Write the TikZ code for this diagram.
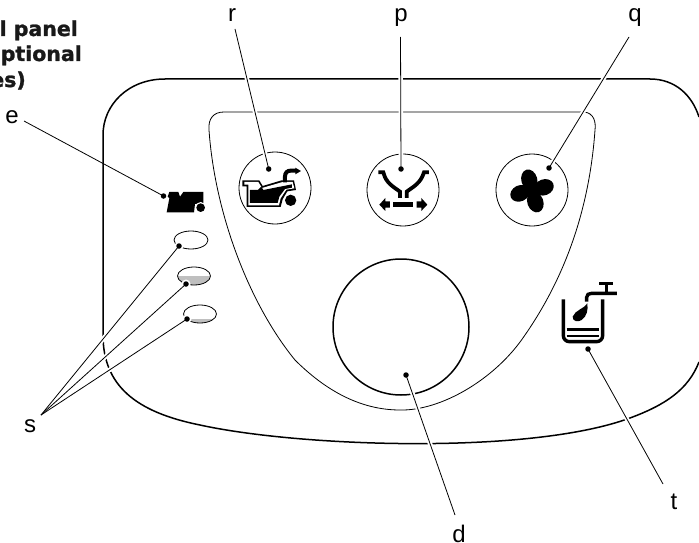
\documentclass[tikz,border=0pt]{standalone}
\usepackage{fontspec}
\setmainfont{Liberation Sans}
\newfontfamily\headfont[FakeBold=1.2]{DejaVu Sans Bold}
\tikzset{
  lbl/.style={font=\fontsize{24}{24}\selectfont,inner sep=0pt,text=black},
  head/.style={font=\headfont\fontsize{20.5}{21}\selectfont,inner sep=0pt,anchor=base east,text=black!90},
  leader/.style={line width=0.8pt},
  halo/.style={line width=4.5pt,white},
  dotm/.style={circle,fill=black,inner sep=0pt,minimum size=5.5pt},
  panel/.style={line width=1.5pt},
  inner/.style={line width=0.8pt},
  btn/.style={line width=0.8pt},
  lamp/.style={line width=0.8pt},
  icon/.style={shift={(#1)},x=0.3333pt,y=-0.3333pt}
}
\begin{document}
\begin{tikzpicture}[x=1pt,y=-1pt]
\useasboundingbox[fill=white] (0,0) rectangle (699,543);
% heading
\node[head] (h1) at (78,36) {l panel};
\node[head] (h2) at (82,61) {ptional};
\begin{scope}
  \clip (0,60) rectangle (60,100);
  \node[head] (h3) at (26,87) {es)};
\end{scope}
% panel
\draw[panel] (699,117) .. controls (692,95) and (675,79) .. (650,79)
  -- (165,79)
  .. controls (128,79) and (103,105) .. (103,135)
  -- (103,335)
  .. controls (103,385) and (135,412) .. (200,425)
  .. controls (300,447) and (530,455) .. (630,418)
  .. controls (665,405) and (688,390) .. (699,362);
% inner
\draw[inner] (209,130) .. controls (208,118) and (214,112) .. (224,112)
  -- (584,112)
  .. controls (594,113) and (596,122) .. (595,130)
  .. controls (590,200) and (570,270) .. (525,335)
  .. controls (495,380) and (440,411) .. (400,410)
  .. controls (360,410) and (325,390) .. (295,360)
  .. controls (250,305) and (215,215) .. cycle;
% buttons
\draw[btn] (275,188) circle (36);
\draw[btn] (403,190) circle (36);
\draw[btn] (532,190) circle (36);
\draw[panel] (401,327) circle (68);
% end points
\coordinate (ce) at (163.5,196);
\coordinate (cr) at (268.7,169);
\coordinate (cp) at (401,169);
\coordinate (cq) at (549,168);
\coordinate (ct) at (588,349);
\coordinate (cd) at (406,375);
\coordinate (cs1) at (179,246);
\coordinate (cs2) at (186,284);
\coordinate (cs3) at (187,319);
\coordinate (e0) at (24,121);
\coordinate (r0) at (235,29);
\coordinate (p0) at (400.5,37);
\coordinate (q0) at (629,37);
\coordinate (t0) at (663,484);
\coordinate (d0) at (455,515);
\coordinate (s0) at (41,415);
% white halos of the leaders
\draw[halo] (r0) -- (cr);
\draw[halo] (p0) -- (cp);
\draw[halo] (q0) -- (cq);
\draw[halo] (t0) -- (ct);
\draw[halo] (d0) -- (cd);
\draw[halo] (s0) -- (cs1);
\draw[halo] (s0) -- (cs2);
\draw[halo] (s0) -- (cs3);
% lamps
\begin{scope}
  \clip (170,276.5) rectangle (215,290);
  \fill[black!25] (194,276) ellipse (16 and 9);
\end{scope}
\begin{scope}
  \clip (180,319.5) rectangle (220,326);
  \fill[black!25] (200,314) ellipse (16 and 9);
\end{scope}
\draw[lamp] (191,240) ellipse (17 and 9);
\draw[lamp] (194,276) ellipse (16.5 and 9);
\draw[lamp] (200,314) ellipse (16.5 and 9);
\fill[white] (cs1) circle (4.5);
\fill[white] (cs2) circle (4.5);
\fill[white] (cs3) circle (4.5);
% e icon
\begin{scope}[icon={130,130}]
  \fill (110,247) -- (118,205) -- (113,200) -- (118,186) -- (145,186) -- (150,200) -- (160,186) -- (220,186) -- (220,222) -- (195,222) -- (192,247) -- cycle;
  \fill[white] (212,233) circle (17);
  \fill (212,233) circle (13);
  % oil icon
  \fill (337,151) -- (388,151) -- (398,168) -- (455,151) -- (492,151) -- (498,180) -- (472,184) -- (458,208) -- (452,231) -- (350,231) -- (350,169) -- (337,169) -- cycle;
  \fill[white] (343,156) -- (385,156) -- (396,174) -- (458,156) -- (488,156) -- (493,175) -- (469,179) -- (452,205) -- (447,226) -- (355,226) -- (355,164) -- (343,164) -- cycle;
  \fill (360,180) -- (384,180) -- (394,170) -- (400,180) -- (486,163) -- (486,173) -- (465,177) -- (448,200) -- (443,219) -- (360,219) -- cycle;
  \draw[line width=4pt] (465,157) -- (465,140) .. controls (465,128) and (472,122) .. (482,122) -- (498,122);
  \fill (496,113) -- (513,123) -- (496,133) -- cycle;
  \fill[white] (482,211) circle (21);
  \fill (482,211) circle (17);
\end{scope}
% p icon
\begin{scope}[icon={350,130}]
  \draw[line width=3.8pt] (85,127) -- (100,127) .. controls (108,160) and (130,170) .. (150,185) -- (150,204);
  \draw[line width=3.8pt] (237,127) -- (222,127) .. controls (212,160) and (190,170) .. (170,185) -- (170,204);
  \fill (129,215) rectangle (189,231);
  \fill (88,224) -- (106,204) -- (106,214) -- (120,214) -- (120,233) -- (106,233) -- (106,243) -- cycle;
  \fill (232,224) -- (214,204) -- (214,214) -- (200,214) -- (200,233) -- (214,233) -- (214,243) -- cycle;
\end{scope}
% q icon
\begin{scope}[icon={350,130}]
  \fill[rotate around={-75:(538,150)}] (538,150) ellipse (32 and 24);
  \fill[rotate around={20:(582,172)}] (582,172) ellipse (30 and 24);
  \fill[rotate around={-70:(556,216)}] (556,216) ellipse (32 and 24);
  \fill[rotate around={25:(510,190)}] (510,190) ellipse (30 and 24);
  \fill (545,182) circle (20);
\end{scope}
% t icon
\begin{scope}[icon={540,270}]
  \draw[line width=3.4pt,rounded corners=6pt] (70,88) -- (70,215) -- (188,215) -- (188,88);
  \draw[line width=2.8pt] (80,178) -- (177,178);
  \draw[line width=2.8pt] (80,198) -- (177,198);
  \draw[line width=3.4pt] (140,95) -- (140,82) .. controls (140,74) and (146,70) .. (155,70) -- (231,70);
  \draw[line width=3.4pt] (200,70) -- (200,40);
  \draw[line width=3.4pt] (177,40) -- (219,40);
  \fill (142,100) .. controls (135,115) and (105,120) .. (98,140) .. controls (97,155) and (115,157) .. (125,150) .. controls (140,140) and (145,120) .. cycle;
\end{scope}
% labels
\node[lbl] (lr) at (232,15) {r};
\node[lbl] (lp) at (401,17.5) {p};
\node[lbl] (lq) at (635,17.5) {q};
\node[lbl] (le) at (12,117) {e};
\node[lbl] (ls) at (30,426.5) {s};
\node[lbl] (ld) at (459,534) {d};
\node[lbl] (lt) at (674,501.5) {t};
% dots
\node[dotm] (de) at (ce) {};
\node[dotm] (dr) at (cr) {};
\node[dotm] (dp) at (cp) {};
\node[dotm] (dq) at (cq) {};
\node[dotm] (dt) at (ct) {};
\node[dotm] (dd) at (cd) {};
\node[dotm] (ds1) at (cs1) {};
\node[dotm] (ds2) at (cs2) {};
\node[dotm] (ds3) at (cs3) {};
% leaders
\draw[leader] (e0) -- (de.center);
\draw[leader] (r0) -- (dr.center);
\draw[leader] (p0) -- (dp.center);
\draw[leader] (q0) -- (dq.center);
\draw[leader] (t0) -- (dt.center);
\draw[leader] (d0) -- (dd.center);
\draw[leader] (s0) -- (ds1.center);
\draw[leader] (s0) -- (ds2.center);
\draw[leader] (s0) -- (ds3.center);
\end{tikzpicture}
\end{document}
